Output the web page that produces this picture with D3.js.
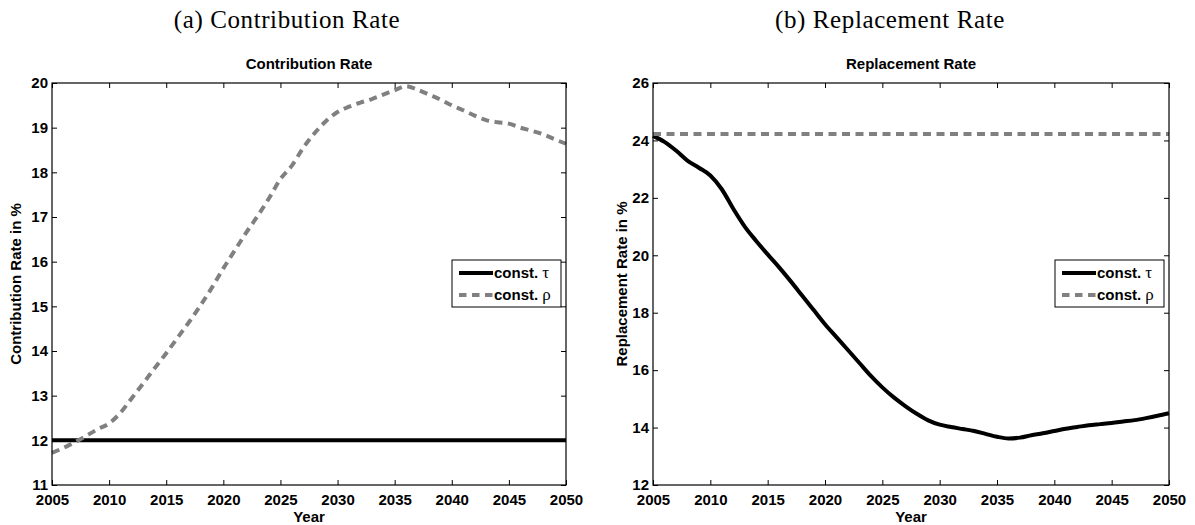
<!DOCTYPE html>
<html>
<head>
<meta charset="utf-8">
<script src="https://cdn.jsdelivr.net/npm/d3@7"></script>
<style>
  html, body { margin: 0; padding: 0; background: #fff; }
  svg { display: block; }
  .tick text { font-family: "Liberation Sans", Arial, sans-serif; font-weight: bold; font-size: 15px; fill: #000; }
  .tick line { stroke: #000; stroke-width: 1; }
  .domain { display: none; }
</style>
</head>
<body>
<svg id="chart" width="1195" height="525"></svg>
<script>
// Projection years
const years = d3.range(2005, 2051);

// Contribution rate in % (panel a)
const contribConstTau = years.map(() => 12);
const contribConstRho = [
  11.72, 11.83, 11.96, 12.10, 12.25, 12.38, 12.62, 12.95, 13.28, 13.62,
  13.95, 14.30, 14.65, 15.02, 15.42, 15.85, 16.25, 16.65, 17.02, 17.42,
  17.85, 18.15, 18.55, 18.88, 19.15, 19.35, 19.47, 19.56, 19.64, 19.74,
  19.84, 19.93, 19.85, 19.74, 19.63, 19.50, 19.39, 19.27, 19.17, 19.12,
  19.09, 19.00, 18.93, 18.85, 18.74, 18.64
];

// Replacement rate in % (panel b)
const replConstTau = [
  24.16, 23.95, 23.65, 23.30, 23.05, 22.78, 22.30, 21.62, 21.00, 20.50,
  20.03, 19.58, 19.10, 18.60, 18.10, 17.60, 17.15, 16.70, 16.25, 15.80,
  15.40, 15.05, 14.75, 14.48, 14.25, 14.10, 14.02, 13.95, 13.88, 13.78,
  13.68, 13.62, 13.65, 13.73, 13.80, 13.88, 13.96, 14.02, 14.08, 14.12,
  14.16, 14.21, 14.26, 14.33, 14.41, 14.50
];
const replConstRho = years.map(() => 24.22);

// Axis ticks
const xTicks = d3.range(2005, 2051, 5);
const contribTicks = d3.range(11, 21, 1);
const replTicks = d3.range(12, 27, 2);

// Text
const subCaptions = ["(a) Contribution Rate", "(b) Replacement Rate"];
const plotTitles = ["Contribution Rate", "Replacement Rate"];
const yLabels = ["Contribution Rate in %", "Replacement Rate in %"];
const xLabel = "Year";
const legendNames = ["const. ", "const. "];
const legendSymbols = ["\u03C4", "\u03C1"];

const svg = d3.select("#chart");
const plotTop = 83, plotBottom = 485;
const sans = "'Liberation Sans', Arial, sans-serif";
const grey = "#808080";

const panels = [
  { left: 52, right: 566, domain: [11, 20], ticks: contribTicks,
    tau: contribConstTau, rho: contribConstRho, caption: subCaptions[0], captionX: 287,
    title: plotTitles[0], ylabel: yLabels[0], ylabelX: 16 },
  { left: 653, right: 1169, domain: [12, 26], ticks: replTicks,
    tau: replConstTau, rho: replConstRho, caption: subCaptions[1], captionX: 890,
    title: plotTitles[1], ylabel: yLabels[1], ylabelX: 622 }
];

panels.forEach(p => {
  const x = d3.scaleLinear().domain([2005, 2050]).range([p.left, p.right]);
  const y = d3.scaleLinear().domain(p.domain).range([plotBottom, plotTop]);
  const g = svg.append("g");

  // sub-figure caption
  g.append("text")
    .attr("x", p.captionX).attr("y", 28)
    .attr("text-anchor", "middle")
    .style("font-family", "'Liberation Serif', 'Times New Roman', serif")
    .style("font-size", "25px")
    .style("letter-spacing", "0.6px")
    .text(p.caption);

  // white plot area
  g.append("rect")
    .attr("x", p.left).attr("y", plotTop)
    .attr("width", p.right - p.left).attr("height", plotBottom - plotTop)
    .attr("fill", "#fff");

  // axes with inward ticks, mirrored on all four sides
  g.append("g").attr("transform", `translate(0,${plotBottom})`)
    .call(d3.axisBottom(x).tickValues(xTicks).tickFormat(d3.format("d"))
      .tickSizeInner(-5).tickSizeOuter(0).tickPadding(9));
  g.append("g").attr("transform", `translate(0,${plotTop})`)
    .call(d3.axisTop(x).tickValues(xTicks).tickFormat("")
      .tickSizeInner(-5).tickSizeOuter(0));
  g.append("g").attr("transform", `translate(${p.left},0)`)
    .call(d3.axisLeft(y).tickValues(p.ticks).tickFormat(d3.format("d"))
      .tickSizeInner(-5).tickSizeOuter(0).tickPadding(4));
  g.append("g").attr("transform", `translate(${p.right},0)`)
    .call(d3.axisRight(y).tickValues(p.ticks).tickFormat("")
      .tickSizeInner(-5).tickSizeOuter(0));

  // series
  const line = d3.line()
    .x((d, i) => x(years[i]))
    .y(d => y(d))
    .curve(d3.curveMonotoneX);

  g.append("path").datum(p.tau)
    .attr("d", line)
    .attr("fill", "none")
    .attr("stroke", "#000")
    .attr("stroke-width", 4)
    .attr("stroke-linejoin", "round");

  g.append("path").datum(p.rho)
    .attr("d", line)
    .attr("fill", "none")
    .attr("stroke", grey)
    .attr("stroke-width", 4)
    .attr("stroke-dasharray", "8,5.5");

  // frame
  g.append("rect")
    .attr("x", p.left).attr("y", plotTop)
    .attr("width", p.right - p.left).attr("height", plotBottom - plotTop)
    .attr("fill", "none").attr("stroke", "#000").attr("stroke-width", 1.2);

  // title
  g.append("text")
    .attr("x", (p.left + p.right) / 2).attr("y", 69)
    .attr("text-anchor", "middle")
    .style("font-family", sans).style("font-weight", "bold").style("font-size", "15px")
    .text(p.title);

  // x label
  g.append("text")
    .attr("x", (p.left + p.right) / 2).attr("y", 522)
    .attr("text-anchor", "middle")
    .style("font-family", sans).style("font-weight", "bold").style("font-size", "15px")
    .text(xLabel);

  // y label
  g.append("text")
    .attr("transform", `translate(${p.ylabelX},${(plotTop + plotBottom) / 2}) rotate(-90)`)
    .attr("text-anchor", "middle")
    .attr("dy", "0.35em")
    .style("font-family", sans).style("font-weight", "bold").style("font-size", "15px")
    .text(p.ylabel);

  // legend
  const lw = 109, lh = 47;
  const lx = p.right - 5 - lw, ly = 260;
  const lg = g.append("g").attr("transform", `translate(${lx},${ly})`);
  lg.append("rect").attr("width", lw).attr("height", lh)
    .attr("fill", "#fff").attr("stroke", "#000").attr("stroke-width", 1);
  const entries = [
    { color: "#000", dash: null, name: legendNames[0], sym: legendSymbols[0], yy: 13 },
    { color: grey, dash: "7.5,5.5", name: legendNames[1], sym: legendSymbols[1], yy: 35 }
  ];
  entries.forEach(e => {
    lg.append("line")
      .attr("x1", 7).attr("x2", 41).attr("y1", e.yy).attr("y2", e.yy)
      .attr("stroke", e.color).attr("stroke-width", 4)
      .attr("stroke-dasharray", e.dash);
    const t = lg.append("text")
      .attr("x", 42).attr("y", e.yy).attr("dy", "0.36em")
      .style("font-family", sans).style("font-weight", "bold").style("font-size", "15px")
      .text(e.name);
    t.append("tspan")
      .style("font-family", "'Liberation Serif', 'Times New Roman', serif")
      .style("font-weight", "normal").style("font-size", "17px")
      .text(e.sym);
  });
});
</script>
</body>
</html>
